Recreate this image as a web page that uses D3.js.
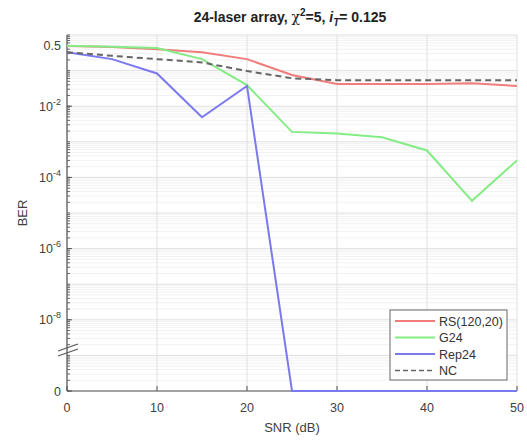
<!DOCTYPE html>
<html><head><meta charset="utf-8">
<script src="https://cdn.jsdelivr.net/npm/d3@7"></script>
<style>body{margin:0;background:#fff}svg{display:block;font-family:"Liberation Sans",Arial,sans-serif}</style>
</head><body>
<svg id="c" width="527" height="441"></svg>
<script>
const snr   = [0,5,10,15,20,25,30,35,40,45,50];
const rs    = [0.49,0.46,0.40,0.33,0.21,0.075,0.042,0.042,0.042,0.044,0.037];
const g24   = [0.50,0.47,0.43,0.21,0.039,0.0019,0.0017,0.00134,0.00057,2.2e-5,3e-4];
const rep24 = [0.33,0.21,0.083,0.0049,0.037,0,0,0,0,0,0];
const nc    = [0.33,0.26,0.21,0.17,0.097,0.061,0.054,0.054,0.054,0.054,0.054];
const seriesNames = ["RS(120,20)","G24","Rep24","NC"];
const xTicks = [0,10,20,30,40,50];
const yTicks = [0.5,1e-2,1e-4,1e-6,1e-8,1e-10];
const yTickLabels = [["0.5",""],["10","-2"],["10","-4"],["10","-6"],["10","-8"],["0",""]];

const svg = d3.select("#c");
const L=67,R=517,T=35,B=391;
const x = d3.scaleLinear().domain([0,50]).range([L,R]);
const y = d3.scaleLog().domain([1e-10,1]).range([B,T]);
const yv = v => y(v<=0 ? 1e-10 : v);

// grid
const g = svg.append("g");
const minor=[];
for(let e=-10;e<0;e++) for(let m=2;m<=9;m++) minor.push(m*Math.pow(10,e));
g.selectAll(".mn").data(minor).join("line")
 .attr("x1",L).attr("x2",R).attr("y1",d=>y(d)).attr("y2",d=>y(d))
 .attr("stroke","#f2f2f2").attr("stroke-width",1);
const decades=d3.range(-10,1).map(e=>Math.pow(10,e));
g.selectAll(".mj").data(decades).join("line")
 .attr("x1",L).attr("x2",R).attr("y1",d=>y(d)).attr("y2",d=>y(d))
 .attr("stroke","#e0e0e0").attr("stroke-width",1);
g.selectAll(".vx").data(xTicks).join("line")
 .attr("x1",d=>x(d)).attr("x2",d=>x(d)).attr("y1",T).attr("y2",B)
 .attr("stroke","#e0e0e0").attr("stroke-width",1);

// lines
const line = d3.line().x((d,i)=>x(snr[i])).y(d=>yv(d));
const sets = [
 {d:rs, c:"#f07c7c", dash:null},
 {d:g24, c:"#84ec84", dash:null},
 {d:rep24, c:"#7a7aee", dash:null},
 {d:nc, c:"#666666", dash:"6,4"}
];
// axes
const ax = svg.append("g");
ax.append("line").attr("x1",L).attr("x2",L).attr("y1",T).attr("y2",B).attr("stroke","#555").attr("stroke-width",1.2);
ax.append("line").attr("x1",L).attr("x2",R).attr("y1",B).attr("y2",B).attr("stroke","#555").attr("stroke-width",1.2);
ax.selectAll(".mt").data(minor.concat(decades)).join("line")
 .attr("x1",L).attr("x2",L+3).attr("y1",d=>y(d)).attr("y2",d=>y(d)).attr("stroke","#666");
ax.selectAll(".yt").data(yTicks).join("line")
 .attr("x1",L).attr("x2",L+5).attr("y1",d=>y(d)).attr("y2",d=>y(d)).attr("stroke","#555");
ax.selectAll(".xt").data(xTicks).join("line")
 .attr("x1",d=>x(d)).attr("x2",d=>x(d)).attr("y1",B).attr("y2",B-5).attr("stroke","#555");

// data lines
sets.forEach(s=>{
 svg.append("path").datum(s.d).attr("d",line).attr("fill","none")
  .attr("stroke",s.c).attr("stroke-width",2).attr("stroke-dasharray",s.dash);
});

// tick labels
const yl = svg.append("g").attr("fill","#404040").attr("font-size",12.5);
yTicks.forEach((t,i)=>{
 const tx = yl.append("text").attr("x",L-6).attr("y",y(t)+4.5).attr("text-anchor","end");
 tx.append("tspan").text(yTickLabels[i][0]);
 if(yTickLabels[i][1]) tx.append("tspan").attr("font-size",9).attr("dy",-6).text(yTickLabels[i][1]);
});
const xl = svg.append("g").attr("fill","#404040").attr("font-size",12.5);
xTicks.forEach(t=>{
 xl.append("text").attr("x",x(t)).attr("y",B+21).attr("text-anchor","middle").text(t);
});

// axis break
const bk = svg.append("g").attr("stroke","#555").attr("stroke-width",1.2);
const yb = 350;
[-2.5,2.5].forEach(o=>{
 bk.append("line").attr("x1",L-9).attr("x2",L+11).attr("y1",yb+o+3.5).attr("y2",yb+o-3.5);
});

// axis titles
svg.append("text").attr("x",292).attr("y",432).attr("text-anchor","middle")
 .attr("font-size",13).attr("fill","#404040").text("SNR (dB)");
svg.append("text").attr("transform","translate(27,213) rotate(-90)").attr("text-anchor","middle")
 .attr("font-size",13).attr("fill","#404040").text("BER");

// title
const tt = svg.append("text").attr("x",290).attr("y",22).attr("text-anchor","middle")
 .attr("font-size",14).attr("font-weight","bold").attr("fill","#222");
tt.append("tspan").text("24-laser array, ");
tt.append("tspan").attr("font-weight","normal").attr("font-family","DejaVu Serif, serif").text("χ");
tt.append("tspan").attr("font-size",10).attr("dy",-6).text("2");
tt.append("tspan").attr("dy",6).text("=5, ");
tt.append("tspan").attr("font-style","italic").text("i");
tt.append("tspan").attr("font-style","italic").attr("font-size",10).attr("dy",4).text("T");
tt.append("tspan").attr("dy",-4).text("= 0.125");

// legend
const lg = svg.append("g");
lg.append("rect").attr("x",390).attr("y",310).attr("width",117).attr("height",70)
 .attr("fill","#fff").attr("stroke","#666").attr("stroke-width",1);
sets.forEach((s,i)=>{
 const yy = 321+i*16.5;
 lg.append("line").attr("x1",395).attr("x2",435).attr("y1",yy).attr("y2",yy)
  .attr("stroke",s.c).attr("stroke-width",s.dash?1.5:2).attr("stroke-dasharray",s.dash?"5,3":null);
 lg.append("text").attr("x",439).attr("y",yy+4.5).attr("font-size",12.5).attr("fill","#333").text(seriesNames[i]);
});
</script>
</body></html>
